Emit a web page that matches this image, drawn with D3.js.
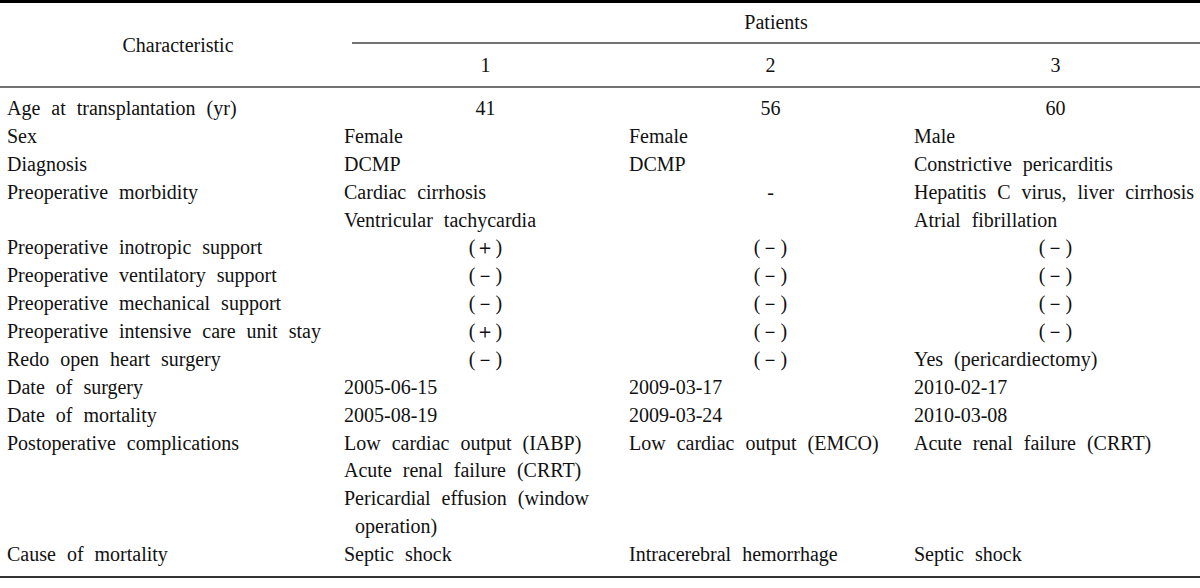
<!DOCTYPE html>
<html>
<head>
<meta charset="utf-8">
<script src="https://cdn.jsdelivr.net/npm/d3@7"></script>
<style>
  body { margin: 0; background: #fff; }
  text { font-family: "Liberation Serif", "Times New Roman", serif; font-size: 20px; fill: #111; word-spacing: 6px; white-space: pre; }
</style>
</head>
<body>
<script>
var w = 1200, h = 588;

// table content
var patients = ["1", "2", "3"];
var characteristics = [
  "Age at transplantation (yr)",
  "Sex",
  "Diagnosis",
  "Preoperative morbidity",
  "Preoperative inotropic support",
  "Preoperative ventilatory support",
  "Preoperative mechanical support",
  "Preoperative intensive care unit stay",
  "Redo open heart surgery",
  "Date of surgery",
  "Date of mortality",
  "Postoperative complications",
  "Cause of mortality"
];
var patient1 = [
  ["41"], ["Female"], ["DCMP"],
  ["Cardiac cirrhosis", "Ventricular tachycardia"],
  ["(＋)"], ["(－)"], ["(－)"], ["(＋)"], ["(－)"],
  ["2005-06-15"], ["2005-08-19"],
  ["Low cardiac output (IABP)", "Acute renal failure (CRRT)", "Pericardial effusion (window", " operation)"],
  ["Septic shock"]
];
var patient2 = [
  ["56"], ["Female"], ["DCMP"],
  ["-"],
  ["(－)"], ["(－)"], ["(－)"], ["(－)"], ["(－)"],
  ["2009-03-17"], ["2009-03-24"],
  ["Low cardiac output (EMCO)"],
  ["Intracerebral hemorrhage"]
];
var patient3 = [
  ["60"], ["Male"], ["Constrictive pericarditis"],
  ["Hepatitis C virus, liver cirrhosis", "Atrial fibrillation"],
  ["(－)"], ["(－)"], ["(－)"], ["(－)"], ["Yes (pericardiectomy)"],
  ["2010-02-17"], ["2010-03-08"],
  ["Acute renal failure (CRRT)"],
  ["Septic shock"]
];
var columns = [patient1, patient2, patient3];

var svg = d3.select("body").append("svg").attr("width", w).attr("height", h);

// each row starts on a line index, tall rows take several lines
var rowStart = [], n = 0;
characteristics.forEach(function (c, i) {
  rowStart.push(n);
  n += d3.max(columns, function (col) { return col[i].length; });
});

var x = d3.scaleBand().domain(patients).range([343, 1198]);
var y = d3.scaleLinear().domain([0, n - 1]).range([115, 561]);

// rules
function rule(x1, x2, yy, sw, color) {
  svg.append("line")
    .attr("x1", x1).attr("x2", x2).attr("y1", yy).attr("y2", yy)
    .style("stroke", color).style("stroke-width", sw);
}
rule(0, w, 1.5, 3, "#000");
rule(352, w, 43, 1.3, "#444");
rule(0, w, 87, 1.5, "#444");
rule(0, w, 577, 2, "#333");

// header
svg.append("text").attr("x", 178).attr("y", 52).attr("text-anchor", "middle").text("Characteristic");
svg.append("text").attr("x", (352 + w) / 2).attr("y", 29).attr("text-anchor", "middle").text("Patients");
svg.selectAll("text.pat").data(patients).enter().append("text")
  .attr("class", "pat")
  .attr("x", function (d) { return x(d) + x.bandwidth() / 2; })
  .attr("y", 72)
  .attr("text-anchor", "middle")
  .text(function (d) { return d; });

// row labels
svg.selectAll("text.label").data(characteristics).enter().append("text")
  .attr("class", "label")
  .attr("x", 7)
  .attr("y", function (d, i) { return y(rowStart[i]); })
  .text(function (d) { return d; });

// cells: short values (numbers, signs) are centred, the rest left aligned
columns.forEach(function (col, ci) {
  var p = patients[ci];
  col.forEach(function (lines, ri) {
    lines.forEach(function (s, li) {
      var centred = s.length <= 3;
      svg.append("text")
        .attr("x", centred ? x(p) + x.bandwidth() / 2 : x(p) + 1)
        .attr("y", y(rowStart[ri] + li))
        .attr("text-anchor", centred ? "middle" : "start")
        .text(s);
    });
  });
});
</script>
</body>
</html>
